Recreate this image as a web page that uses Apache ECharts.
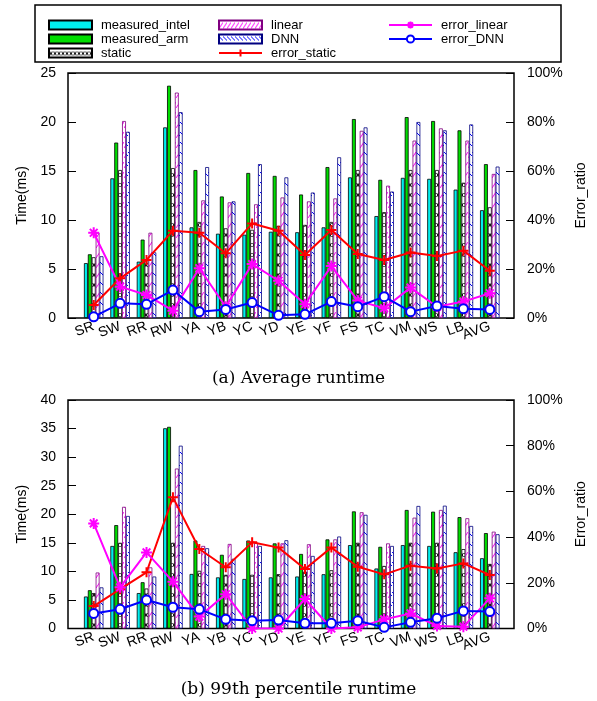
<!DOCTYPE html>
<html lang="en">
<head>
    <meta charset="UTF-8">
    <title>runtime</title>
    <script src="https://cdn.jsdelivr.net/npm/echarts@6/dist/echarts.min.js"></script>
    <style>
        body { margin: 0; background: #fff; }
    </style>
</head>
<body>
<div id="main" style="width: 597px; height: 701px;"></div>
<script>
    var categories = ['SR', 'SW', 'RR', 'RW', 'YA', 'YB', 'YC', 'YD', 'YE', 'YF', 'FS', 'TC', 'VM', 'WS', 'LB', 'AVG'];

    // (a) average runtime, ms
    var avgIntel  = [5.6, 14.25, 5.75, 19.45, 9.25, 8.6, 8.5, 8.8, 8.75, 9.25, 14.35, 10.4, 14.3, 14.2, 13.1, 11.0];
    var avgArm    = [6.5, 17.9, 8.0, 23.7, 15.1, 12.4, 14.8, 14.5, 12.6, 15.4, 20.3, 14.1, 20.5, 20.1, 19.15, 15.7];
    var avgStatic = [6.2, 15.1, 5.9, 15.3, 9.8, 9.15, 9.0, 9.4, 9.5, 9.8, 15.1, 10.8, 15.1, 15.1, 13.8, 11.3];
    var avgLinear = [8.7, 20.1, 8.7, 23.0, 12.0, 11.8, 11.6, 12.3, 11.9, 12.2, 19.1, 13.5, 18.1, 19.35, 18.1, 14.7];
    var avgDNN    = [6.3, 19.0, 6.7, 21.0, 15.4, 11.9, 15.7, 14.35, 12.8, 16.4, 19.45, 12.9, 20.0, 19.15, 19.75, 15.45];
    // error ratios, %
    var avgErrStatic = [5.3, 16.2, 23.7, 35.6, 34.8, 26.4, 38.6, 35.6, 25.7, 35.9, 26.1, 23.7, 26.7, 25.3, 27.5, 19.3];
    var avgErrLinear = [34.8, 12.8, 9.4, 3.0, 20.3, 4.6, 22.0, 15.2, 5.6, 21.2, 7.1, 4.0, 12.4, 4.6, 6.7, 10.1];
    var avgErrDNN    = [0.5, 6.0, 5.6, 11.4, 2.6, 3.5, 6.3, 1.1, 1.5, 6.7, 4.6, 8.7, 2.6, 4.9, 3.8, 3.5];

    // (b) 99th percentile runtime, ms
    var p99Intel  = [5.6, 14.45, 6.2, 35.05, 9.55, 8.95, 8.67, 8.95, 9.1, 9.5, 14.6, 10.5, 14.6, 14.45, 13.35, 12.3];
    var p99Arm    = [6.7, 18.1, 8.1, 35.3, 15.4, 12.9, 15.4, 14.9, 13.05, 15.6, 20.5, 14.3, 20.75, 20.45, 19.5, 16.7];
    var p99Static = [6.2, 15.0, 7.0, 15.0, 10.1, 9.4, 9.4, 9.5, 9.95, 10.2, 15.0, 10.95, 15.0, 15.0, 13.9, 11.3];
    var p99Linear = [9.8, 21.3, 10.7, 28.0, 14.45, 14.8, 15.0, 14.9, 14.75, 15.6, 20.35, 14.9, 19.4, 20.75, 19.3, 16.95];
    var p99DNN    = [7.2, 19.7, 9.1, 32.0, 14.05, 12.2, 14.45, 15.45, 12.7, 16.1, 19.9, 14.45, 21.45, 21.5, 17.95, 16.5];
    var p99ErrStatic = [9.8, 17.2, 24.6, 57.4, 34.8, 26.8, 37.7, 35.4, 26.0, 35.4, 27.0, 23.7, 27.5, 26.3, 28.5, 23.4];
    var p99ErrLinear = [46.0, 18.0, 33.3, 20.5, 5.2, 15.0, 0, 0, 12.9, 0, 0.5, 4.0, 6.6, 1.1, 0.8, 13.2];
    var p99ErrDNN    = [6.6, 8.4, 12.5, 9.3, 8.4, 4.0, 3.4, 3.7, 2.3, 2.3, 3.4, 0.5, 2.7, 4.5, 7.7, 7.4];

    var font = 'Liberation Sans, Arial, sans-serif';

    function hatch(kind) {
        var c = document.createElement('canvas');
        c.width = 4;
        c.height = 10;
        var g = c.getContext('2d');
        g.fillStyle = '#fff';
        g.fillRect(0, 0, 4, 10);
        g.lineWidth = 1;
        g.beginPath();
        if (kind == 'static') {
            g.strokeStyle = '#000';
            g.moveTo(0.5, 3); g.lineTo(3.5, 7);
            g.moveTo(3.5, 3); g.lineTo(0.5, 7);
        } else if (kind == 'linear') {
            g.strokeStyle = '#ff00ff';
            g.moveTo(0, 8); g.lineTo(4, 2);
        } else {
            g.strokeStyle = '#0000ff';
            g.moveTo(0, 2); g.lineTo(4, 6);
        }
        g.stroke();
        return {image: c, repeat: 'repeat'};
    }

    var fills = {
        measured_intel: '#00eeee',
        measured_arm: '#00dd00',
        static: hatch('static'),
        linear: hatch('linear'),
        DNN: hatch('dnn')
    };
    var borders = {
        measured_intel: '#000',
        measured_arm: '#000',
        static: '#000',
        linear: '#800080',
        DNN: '#000080'
    };

    var plus = 'path://M0,5L10,5M5,0L5,10';
    var star = 'path://M0,5L10,5M5,0L5,10M1.5,1.5L8.5,8.5M8.5,1.5L1.5,8.5';

    function bar(name, data, axis) {
        return {
            name: name,
            type: 'bar',
            xAxisIndex: axis,
            yAxisIndex: axis * 2,
            data: data,
            barWidth: 3.9,
            barGap: '0%',
            itemStyle: {color: fills[name], borderColor: borders[name], borderWidth: 0.8},
            emphasis: {disabled: true}
        };
    }

    function line(name, data, axis, color, symbol, size) {
        return {
            name: name,
            type: 'line',
            xAxisIndex: axis,
            yAxisIndex: axis * 2 + 1,
            data: data,
            z: 5,
            symbol: symbol,
            symbolSize: size,
            lineStyle: {color: color, width: 2},
            itemStyle: {color: color, borderColor: color, borderWidth: 2},
            emphasis: {disabled: true}
        };
    }

    function frameAxes(grid, max) {
        return [
            {
                gridIndex: grid, type: 'value', min: 0, max: max, interval: 5,
                position: 'left',
                name: 'Time(ms)', nameLocation: 'middle', nameGap: 39, nameRotate: 90,
                nameTextStyle: {fontFamily: font, fontSize: 14, color: '#000'},
                axisLine: {show: false},
                axisTick: {inside: true, length: 8, lineStyle: {color: '#000'}},
                axisLabel: {fontFamily: font, fontSize: 14, color: '#000', margin: 12},
                splitLine: {show: false}
            },
            {
                gridIndex: grid, type: 'value', min: 0, max: 100, interval: 20,
                position: 'right',
                name: 'Error_ratio', nameLocation: 'middle', nameGap: 44, nameRotate: 90,
                nameTextStyle: {fontFamily: font, fontSize: 14, color: '#000'},
                axisLine: {show: false},
                axisTick: {inside: true, length: 8, lineStyle: {color: '#000'}},
                axisLabel: {fontFamily: font, fontSize: 14, color: '#000', margin: 13, formatter: '{value}%'},
                splitLine: {show: false}
            }
        ];
    }

    function hiddenAxes(grid, max) {
        return [
            {gridIndex: grid, type: 'value', min: 0, max: max, show: false},
            {gridIndex: grid, type: 'value', min: 0, max: 100, show: false}
        ];
    }

    var myChart = echarts.init(document.getElementById('main'));

    var legendText = {fontFamily: font, fontSize: 13, color: '#000', lineHeight: 14, padding: [0, 0, 0, 4]};
    function legendCol(left, names) {
        var items = [];
        for (var i = 0; i < names.length; i++) {
            if (names[i].indexOf('error') == 0) {
                items.push({name: names[i]});
            } else {
                items.push({name: names[i], icon: 'rect'});
            }
        }
        return {
            orient: 'vertical', left: left, top: 13,
            itemWidth: 43, itemHeight: 9, itemGap: 0,
            selectedMode: false,
            textStyle: legendText,
            data: items
        };
    }

    var xLabel = {rotate: 20, interval: 0, fontFamily: font, fontSize: 14, color: '#000', margin: 8};

    var option = {
        animation: false,
        backgroundColor: '#fff',
        title: [
            {text: '(a) Average runtime', left: 'center', top: 365,
                textStyle: {fontFamily: 'DejaVu Serif', fontSize: 17, fontWeight: 'normal', color: '#000'}},
            {text: '(b) 99th percentile runtime', left: 'center', top: 676,
                textStyle: {fontFamily: 'DejaVu Serif', fontSize: 17, fontWeight: 'normal', color: '#000'}}
        ],
        legend: [
            legendCol(43, ['measured_intel', 'measured_arm', 'static']),
            legendCol(213, ['linear', 'DNN', 'error_static']),
            legendCol(383, ['error_linear', 'error_DNN'])
        ],
        graphic: [{
            type: 'rect',
            shape: {x: 35, y: 5, width: 526, height: 57},
            style: {fill: 'none', stroke: '#000', lineWidth: 1.5}
        }],
        grid: [
            {left: 68, right: 83, top: 73, height: 245, show: true, borderColor: '#000', borderWidth: 1.5},
            {left: 80.5, right: 94, top: 73, height: 245},
            {left: 68, right: 83, top: 400, height: 228.5, show: true, borderColor: '#000', borderWidth: 1.5},
            {left: 80.5, right: 94, top: 400, height: 228.5}
        ],
        xAxis: [
            {gridIndex: 1, type: 'category', data: categories,
                axisLine: {show: false}, axisTick: {show: false}, axisLabel: xLabel},
            {gridIndex: 3, type: 'category', data: categories,
                axisLine: {show: false}, axisTick: {show: false}, axisLabel: xLabel},
            {gridIndex: 0, type: 'value', min: 0, max: 1, show: false},
            {gridIndex: 2, type: 'value', min: 0, max: 1, show: false}
        ],
        yAxis: [].concat(
            hiddenAxes(1, 25),
            hiddenAxes(3, 40),
            frameAxes(0, 25),
            frameAxes(2, 40)
        ),
        series: [
            bar('measured_intel', avgIntel, 0),
            bar('measured_arm', avgArm, 0),
            bar('static', avgStatic, 0),
            bar('linear', avgLinear, 0),
            bar('DNN', avgDNN, 0),
            line('error_static', avgErrStatic, 0, '#ff0000', plus, 10),
            line('error_linear', avgErrLinear, 0, '#ff00ff', star, 11),
            line('error_DNN', avgErrDNN, 0, '#0000ff', 'emptyCircle', 9),

            bar('measured_intel', p99Intel, 1),
            bar('measured_arm', p99Arm, 1),
            bar('static', p99Static, 1),
            bar('linear', p99Linear, 1),
            bar('DNN', p99DNN, 1),
            line('error_static', p99ErrStatic, 1, '#ff0000', plus, 10),
            line('error_linear', p99ErrLinear, 1, '#ff00ff', star, 11),
            line('error_DNN', p99ErrDNN, 1, '#0000ff', 'emptyCircle', 9)
        ]
    };
    myChart.setOption(option);
</script>
</body>
</html>
